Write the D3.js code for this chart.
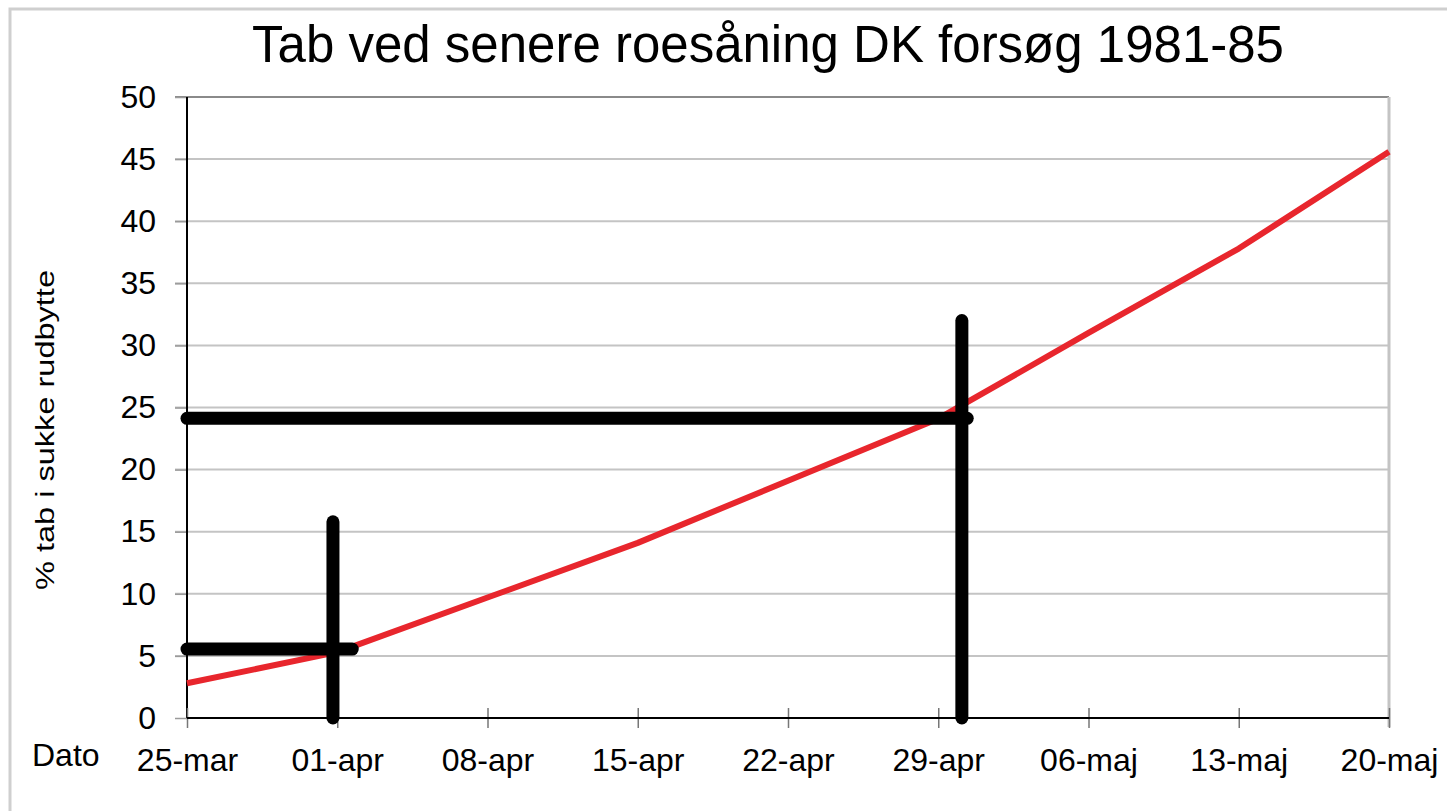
<!DOCTYPE html>
<html>
<head>
<meta charset="utf-8">
<script src="https://cdn.jsdelivr.net/npm/d3@7"></script>
<style>
  html, body { margin: 0; padding: 0; background: #fff; }
  svg { display: block; font-family: "Liberation Sans", Arial, sans-serif; }
</style>
</head>
<body>
<svg id="chart" width="1447" height="811"></svg>
<script>
// ---- data ----
const title = "Tab ved senere roesåning DK forsøg 1981-85";
const yLabel = "% tab i sukke rudbytte";
const xLabel = "Dato";
// days after 25-mar
const dayOffsets = [0, 7, 14, 21, 28, 35, 42, 49, 56];
const xTickLabels = ["25-mar", "01-apr", "08-apr", "15-apr", "22-apr", "29-apr", "06-maj", "13-maj", "20-maj"];
const lossValues = [2.8, 5.3, 9.7, 14.1, 19.1, 24.1, 31.0, 37.8, 45.6];
const yTicks = [0, 5, 10, 15, 20, 25, 30, 35, 40, 45, 50];
// hand-drawn black marker lines: [day1, value1, day2, value2]
const markerSegments = [
  [0, 5.55, 7.7, 5.55],
  [6.8, 15.8, 6.8, 0],
  [0, 24.13, 36.35, 24.13],
  [36.1, 32.0, 36.1, 0]
];

(function () {
// ---- layout ----
const svg = d3.select("#chart");
const pLeft = 187, pRight = 1389, pTop = 97, pBottom = 718;

const x = d3.scaleLinear().domain([0, 56]).range([pLeft, pRight]);
const y = d3.scaleLinear().domain([0, 50]).range([pBottom, pTop]);

// outer frame
svg.append("rect").attr("x", 10).attr("y", 9).attr("width", 1460).attr("height", 830)
  .attr("fill", "none").attr("stroke", "#cfcfcf").attr("stroke-width", 3);

// title
svg.append("text").attr("x", 768).attr("y", 62).attr("text-anchor", "middle")
  .attr("font-size", 51).attr("fill", "#000").text(title);

// gridlines
svg.append("g").selectAll("line").data(yTicks.filter(d => d > 0)).join("line")
  .attr("x1", pLeft - 12).attr("x2", pRight)
  .attr("y1", d => y(d)).attr("y2", d => y(d))
  .attr("stroke", d => d === 50 ? "#8a8a8a" : "#c4c4c4").attr("stroke-width", 2);

// right border
svg.append("line").attr("x1", pRight).attr("x2", pRight).attr("y1", pTop).attr("y2", pBottom + 9)
  .attr("stroke", "#c4c4c4").attr("stroke-width", 3);

// y axis
const yAxis = d3.axisLeft(y).tickValues(yTicks).tickSize(12).tickPadding(19).tickFormat(d3.format("d"));
const gy = svg.append("g").attr("transform", `translate(${pLeft},0)`).call(yAxis);
gy.select(".domain").remove();
gy.selectAll(".tick line").attr("stroke", "#9a9a9a").attr("stroke-width", 1.5);
gy.selectAll(".tick text").attr("font-size", 32).attr("fill", "#000")
  .attr("font-family", "Liberation Sans, Arial, sans-serif");
svg.append("line").attr("x1", pLeft).attr("x2", pLeft).attr("y1", pTop).attr("y2", pBottom)
  .attr("stroke", "#000").attr("stroke-width", 2);

// x axis
const xAxis = d3.axisBottom(x).tickValues(dayOffsets).tickSize(10).tickPadding(20)
  .tickFormat((d, i) => xTickLabels[i]);
const gx = svg.append("g").attr("transform", `translate(0,${pBottom})`).call(xAxis);
gx.select(".domain").remove();
gx.selectAll(".tick line").attr("y1", -10).attr("stroke", "#777").attr("stroke-width", 1.5);
gx.selectAll(".tick text").attr("font-size", 32).attr("fill", "#000")
  .attr("font-family", "Liberation Sans, Arial, sans-serif");
svg.append("line").attr("x1", pLeft).attr("x2", pRight).attr("y1", pBottom).attr("y2", pBottom)
  .attr("stroke", "#000").attr("stroke-width", 2);

// axis labels
svg.append("text").attr("x", 32).attr("y", 766).attr("font-size", 32).attr("fill", "#000").text(xLabel);
svg.append("text").attr("transform", "translate(54,430) rotate(-90)")
  .attr("text-anchor", "middle").attr("font-size", 26)
  .attr("textLength", 320).attr("lengthAdjust", "spacingAndGlyphs")
  .attr("fill", "#000").text(yLabel);

// red line
const line = d3.line().x((d, i) => x(dayOffsets[i])).y(d => y(d));
svg.append("path").datum(lossValues).attr("d", line)
  .attr("fill", "none").attr("stroke", "#e8262d").attr("stroke-width", 6)
  .attr("stroke-linejoin", "round");

// black marker lines
svg.append("g").selectAll("line").data(markerSegments).join("line")
  .attr("x1", d => x(d[0])).attr("y1", d => y(d[1]))
  .attr("x2", d => x(d[2])).attr("y2", d => y(d[3]))
  .attr("stroke", "#000").attr("stroke-width", 13).attr("stroke-linecap", "round");
})();
</script>
</body>
</html>
